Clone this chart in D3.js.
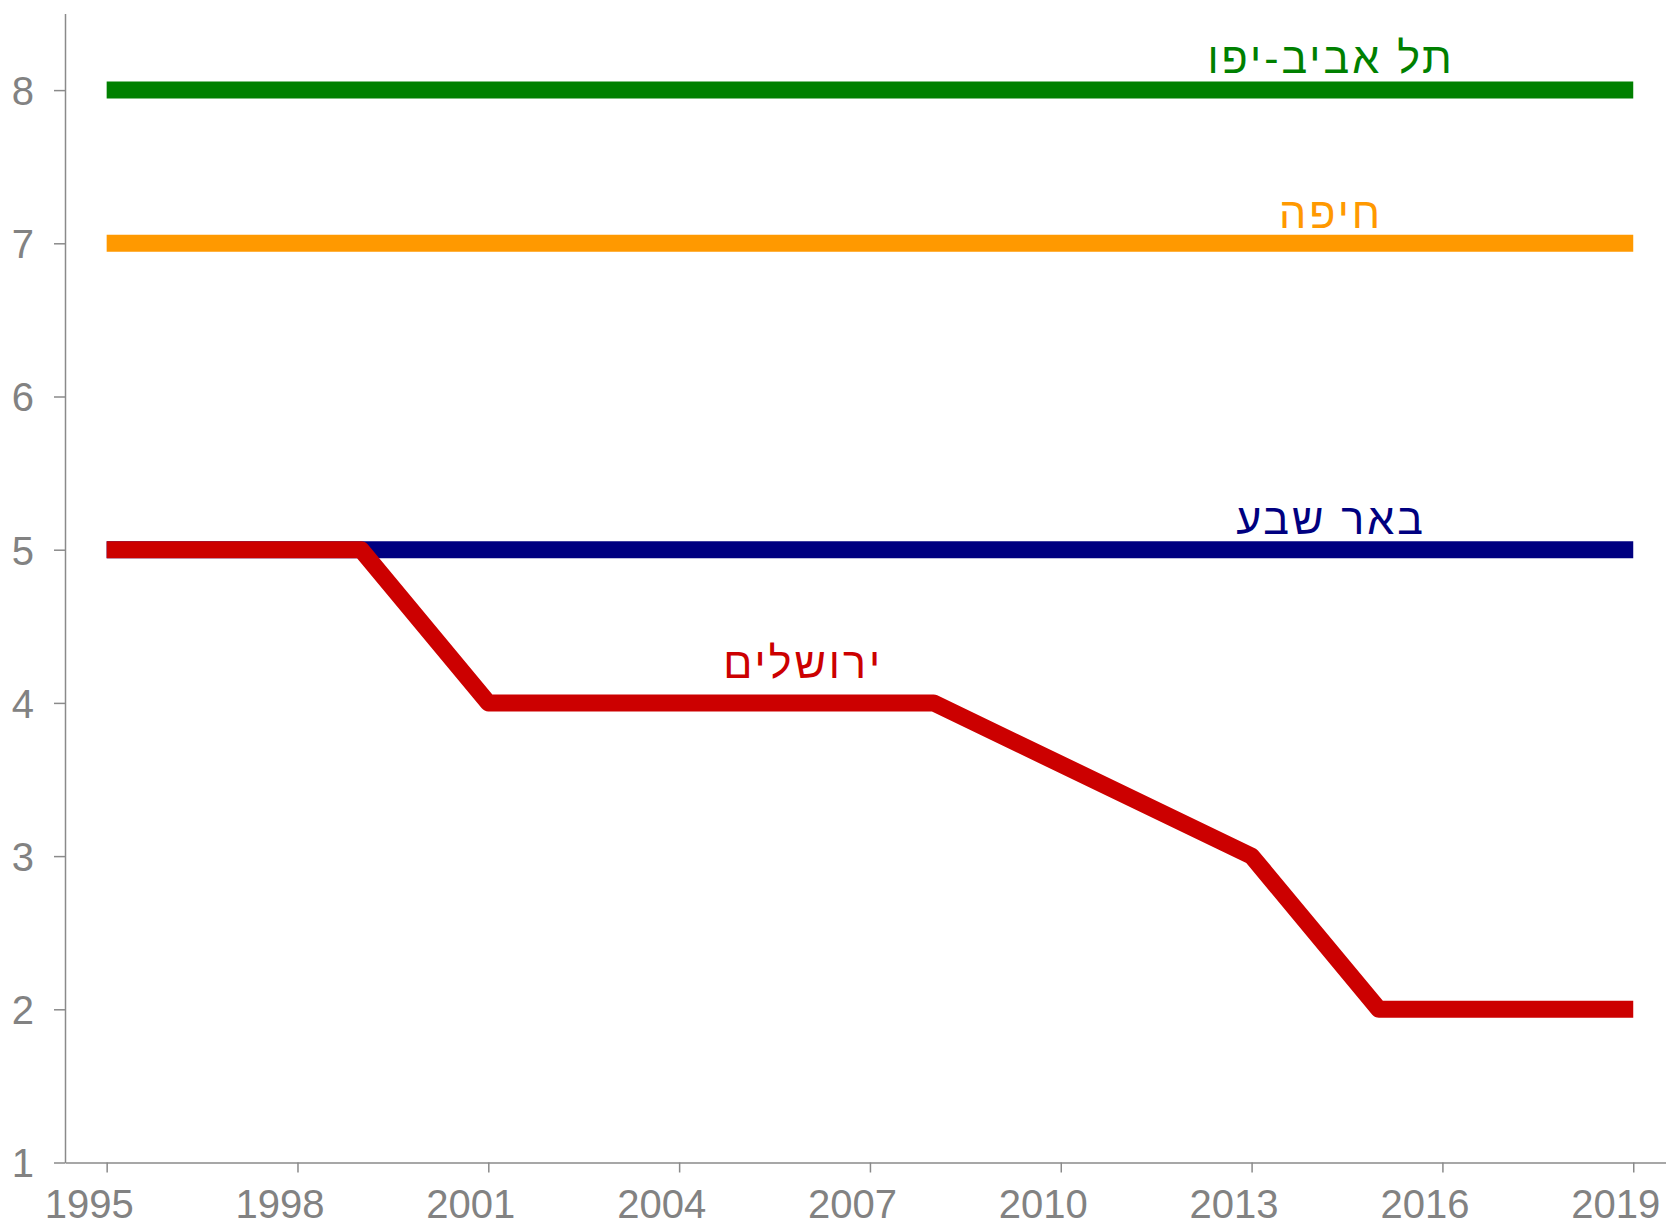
<!DOCTYPE html>
<html>
<head>
<meta charset="utf-8">
<script src="https://cdn.jsdelivr.net/npm/d3@7"></script>
<style>
	body { margin: 0; background: #fff; }
	svg text { font-family: "Liberation Sans", Arial, sans-serif; }
</style>
</head>
<body>
<div id="chart"></div>
<script>
// data
var years = [1995, 1998, 2001, 2004, 2007, 2010, 2013, 2016, 2019];
var yTicks = [1, 2, 3, 4, 5, 6, 7, 8];

var telAvivYears = [1995, 2019];
var telAvivValues = [8, 8];
var haifaYears = [1995, 2019];
var haifaValues = [7, 7];
var beershebaYears = [1995, 2019];
var beershebaValues = [5, 5];
var jerusalemYears = [1995, 1999, 2001, 2008, 2013, 2015, 2019];
var jerusalemValues = [5, 5, 4, 4, 3, 2, 2];

var cityNames = ['תל אביב-יפו', 'חיפה', 'באר שבע', 'ירושלים'];
var cityColors = ['#008000', '#ff9900', '#000080', '#cc0000'];
// where each name sits (year, value)
var labelYears = [2014.25, 2014.25, 2014.25, 2005.95];
var labelValues = [8, 7, 5, 4];

var width = 1666;
var height = 1222;

var svg = d3.select('#chart')
	.append('svg')
	.attr('width', width)
	.attr('height', height);

var x = d3.scaleLinear()
	.domain([1994.345, 2019.515])
	.range([65, 1666]);

var y = d3.scaleLinear()
	.domain([1, 8.5])
	.range([1162.5, 13.5]);

function series(xs, ys) {
	return xs.map(function (d, i) {
		return { year: d, value: ys[i] };
	});
}

// axes
var xAxis = svg.append('g')
	.attr('transform', 'translate(0,' + y(1) + ')')
	.call(d3.axisBottom(x).tickValues(years).tickFormat(d3.format('d')).tickSize(10).tickSizeOuter(0));

var yAxis = svg.append('g')
	.attr('transform', 'translate(' + x.range()[0] + ',0)')
	.call(d3.axisLeft(y).tickValues(yTicks).tickSize(11).tickSizeOuter(0));

[xAxis, yAxis].forEach(function (g) {
	g.select('.domain').attr('stroke', '#8a8a8a').attr('stroke-width', 1.5);
	g.selectAll('.tick line').attr('stroke', '#8a8a8a').attr('stroke-width', 1.5);
	g.selectAll('.tick text')
		.attr('fill', '#828282')
		.style('font-size', '40px')
		.style('font-family', '"Liberation Sans", Arial, sans-serif');
});

// x labels sit a bit left of their ticks
xAxis.selectAll('.tick text').attr('x', -18).attr('y', 27).attr('dy', '0.71em');
yAxis.selectAll('.tick text').attr('x', -31).attr('dy', '0.36em');

// lines
var line = d3.line()
	.x(function (d) { return x(d.year); })
	.y(function (d) { return y(d.value); });

var allSeries = [
	series(telAvivYears, telAvivValues),
	series(haifaYears, haifaValues),
	series(beershebaYears, beershebaValues),
	series(jerusalemYears, jerusalemValues)
];

svg.selectAll('path.city')
	.data(allSeries)
	.enter()
	.append('path')
	.attr('class', 'city')
	.attr('d', line)
	.attr('fill', 'none')
	.attr('stroke', function (d, i) { return cityColors[i]; })
	.attr('stroke-width', 17)
	.attr('stroke-linejoin', 'round')
	.attr('stroke-linecap', 'butt');

// names
var labelDy = [-17, -15, -16, -25];
svg.selectAll('text.city')
	.data(cityNames)
	.enter()
	.append('text')
	.attr('class', 'city')
	.attr('x', function (d, i) { return x(labelYears[i]); })
	.attr('y', function (d, i) { return y(labelValues[i]) + labelDy[i]; })
	.attr('text-anchor', 'middle')
	.attr('direction', 'rtl')
	.attr('fill', function (d, i) { return cityColors[i]; })
	.style('font-family', '"Liberation Sans", Arial, sans-serif')
	.style('font-size', '43px')
	.style('letter-spacing', '3px')
	.text(function (d) { return d; });
</script>
</body>
</html>
